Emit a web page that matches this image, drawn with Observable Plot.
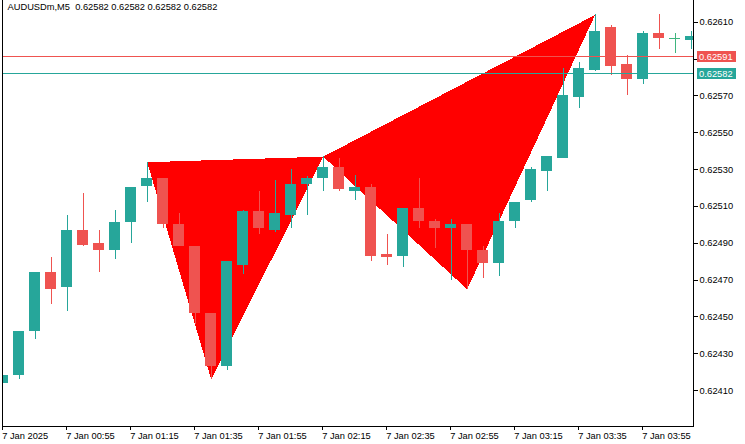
<!DOCTYPE html>
<html>
<head>
<meta charset="utf-8">
<script src="https://cdn.jsdelivr.net/npm/d3@7"></script>
<script src="https://cdn.jsdelivr.net/npm/@observablehq/plot@0.6"></script>
<style>
  html, body { margin: 0; padding: 0; background: #fff; }
  #chart svg { display: block; overflow: visible; }
</style>
</head>
<body>
<div id="chart"></div>
<script>
// ---- Data (AUDUSDm, M5, 7 Jan 2025 from 00:35) ----
const title = "AUDUSDm,M5  0.62582 0.62582 0.62582 0.62582";
const barTimes = ["00:35","00:40","00:45","00:50","00:55","01:00","01:05","01:10","01:15","01:20",
  "01:25","01:30","01:35","01:40","01:45","01:50","01:55","02:00","02:05","02:10",
  "02:15","02:20","02:25","02:30","02:35","02:40","02:45","02:50","02:55","03:00",
  "03:05","03:10","03:15","03:20","03:25","03:30","03:35","03:40","03:45","03:50",
  "03:55","04:00","04:05","04:10"];
const opens  = [0.62414,0.62418,0.62442,0.62474,0.62466,0.62497,0.62490,0.62486,0.62501,0.62521,
  0.62525,0.62500,0.62488,0.62452,0.62423,0.62478,0.62507,0.62497,0.62505,0.62522,
  0.62525,0.62531,0.62518,0.62520,0.62484,0.62483,0.62509,0.62502,0.62498,0.62500,
  0.62486,0.62479,0.62502,0.62513,0.62529,0.62536,0.62569,0.62584,0.62607,0.62587,
  0.62579,0.62604,0.62601,0.62600];
const highs  = [0.62418,0.62442,0.62474,0.62482,0.62505,0.62517,0.62497,0.62508,0.62520,0.62534,
  0.62525,0.62506,0.62488,0.62452,0.62480,0.62508,0.62518,0.62524,0.62530,0.62526,
  0.62537,0.62536,0.62527,0.62522,0.62495,0.62509,0.62525,0.62503,0.62503,0.62500,
  0.62488,0.62506,0.62512,0.62531,0.62537,0.62585,0.62588,0.62614,0.62608,0.62592,
  0.62605,0.62614,0.62604,0.62605];
const lows   = [0.62414,0.62416,0.62438,0.62457,0.62453,0.62488,0.62474,0.62481,0.62490,0.62512,
  0.62498,0.62488,0.62446,0.62416,0.62421,0.62473,0.62495,0.62496,0.62498,0.62505,
  0.62518,0.62518,0.62513,0.62480,0.62478,0.62477,0.62498,0.62487,0.62470,0.62465,
  0.62471,0.62472,0.62498,0.62512,0.62518,0.62536,0.62563,0.62583,0.62581,0.62570,
  0.62576,0.62595,0.62593,0.62595];
const closes = [0.62418,0.62442,0.62474,0.62465,0.62497,0.62489,0.62486,0.62501,0.62520,0.62525,
  0.62500,0.62488,0.62452,0.62423,0.62480,0.62507,0.62498,0.62506,0.62522,0.62525,
  0.62531,0.62519,0.62520,0.62483,0.62482,0.62509,0.62502,0.62498,0.62500,0.62486,
  0.62479,0.62502,0.62512,0.62530,0.62537,0.62570,0.62585,0.62605,0.62586,0.62579,
  0.62604,0.62601,0.62601,0.62602];

const xTickBars   = [0,4,8,12,16,20,24,28,32,36,40];
const xTickLabels = ["7 Jan 2025","7 Jan 00:55","7 Jan 01:15","7 Jan 01:35","7 Jan 01:55",
  "7 Jan 02:15","7 Jan 02:35","7 Jan 02:55","7 Jan 03:15","7 Jan 03:35","7 Jan 03:55"];
const yTicks = [0.62410,0.62430,0.62450,0.62470,0.62490,0.62510,0.62530,0.62550,0.62570,0.62590,0.62610];

// Harmonic pattern points X, A, B, C, D (bar index, price)
const patternNames  = ["X","A","B","C","D"];
const patternBars   = [9,13,20,29,37];
const patternPrices = [0.62534,0.62416,0.62537,0.62465,0.62614];

const bidPrice = 0.62582;
const askPrice = 0.62591;

// ---- Build tables ----
const BULL = "#26a69a", BEAR = "#ef5350", DOJI = "#3fb57f";
const candles = opens.map((o, i) => ({
  i, time: barTimes[i], open: o, high: highs[i], low: lows[i], close: closes[i],
  color: closes[i] > o ? BULL : closes[i] < o ? BEAR : DOJI
}));
const pts = patternBars.map((b, k) => ({name: patternNames[k], i: b, p: patternPrices[k]}));
const triangles = [
  ...[0,1,2].map(k => ({tri: "XAB", ...pts[k]})),
  ...[2,3,4].map(k => ({tri: "BCD", ...pts[k]}))
];
const priceLines = [
  {price: askPrice, color: BEAR},
  {price: bidPrice, color: BULL}
];

const W = 745, H = 444;
const mL = 2, mR = 52, mT = 0, mB = 18;
const halfBody = 0.344;
const FONT = "Liberation Sans, Arial, sans-serif";
const FS = 9.3;
// labels hidden under the price boxes
const hiddenTick = (d) => priceLines.some(l => Math.abs(l.price - d) < 0.00006);

const plot = Plot.plot({
  width: W, height: H,
  marginLeft: mL, marginRight: mR, marginTop: mT, marginBottom: mB,
  style: {fontFamily: FONT, fontSize: FS + "px", background: "#fff", color: "#000", overflow: "visible"},
  x: {type: "linear", domain: [-0.04375, 43.14375], axis: null, label: null},
  y: {type: "linear", domain: [0.623905, 0.626218], axis: null, label: null},
  color: {type: "identity"},
  marks: [
    // pattern triangles
    Plot.line(triangles, {x: "i", y: "p", z: "tri", curve: "linear-closed",
      fill: "#ff0000", stroke: "none", shapeRendering: "crispEdges", clip: true}),
    // wicks
    Plot.ruleX(candles, {x: "i", y1: "low", y2: "high", stroke: d => d.color, strokeWidth: 1,
      shapeRendering: "crispEdges", clip: true}),
    // bodies
    Plot.rect(candles.filter(d => d.open !== d.close), {
      x1: d => d.i - halfBody, x2: d => d.i + halfBody, y1: "open", y2: "close",
      fill: d => d.color, inset: 0, shapeRendering: "crispEdges", clip: true}),
    // doji
    Plot.ruleY(candles.filter(d => d.open === d.close), {
      y: "open", x1: d => d.i - halfBody, x2: d => d.i + halfBody, stroke: d => d.color,
      shapeRendering: "crispEdges", clip: true}),
    // bid / ask lines
    Plot.ruleY(priceLines, {y: "price", stroke: d => d.color, strokeWidth: 1}),
    // frame
    Plot.frame({anchor: "left", stroke: "#000", shapeRendering: "crispEdges"}),
    Plot.frame({anchor: "right", stroke: "#000", shapeRendering: "crispEdges"}),
    Plot.frame({anchor: "bottom", stroke: "#000", shapeRendering: "crispEdges"}),
    // axes
    Plot.axisX({ticks: xTickBars, tickFormat: (d) => xTickLabels[xTickBars.indexOf(d)], label: null,
      tickSize: 4, tickPadding: 2, textAnchor: "start", dx: -1, fontSize: FS, fill: "#000",
      shapeRendering: "crispEdges"}),
    Plot.axisY({anchor: "right", ticks: yTicks, tickFormat: d => hiddenTick(d) ? "" : d.toFixed(5), label: null,
      tickSize: 4, tickPadding: 2, fontSize: FS, fill: "#000", shapeRendering: "crispEdges"}),
    // title
    Plot.text([title], {frameAnchor: "top-left", dx: 5, dy: 3, textAnchor: "start",
      lineAnchor: "top", fontSize: FS, fill: "#000"})
  ]
});

const svg = d3.select(plot);
// snap the long horizontal price lines to whole pixels (pixel-crisp like the terminal)
svg.selectAll("line").each(function () {
  const el = d3.select(this);
  const y1 = +el.attr("y1"), y2 = +el.attr("y2"), x1 = +el.attr("x1"), x2 = +el.attr("x2");
  if (y1 === y2 && Math.abs(x2 - x1) > 300) {
    el.attr("y1", Math.floor(y1)).attr("y2", Math.floor(y2));
  }
});

// price labels on the right axis
const ys = plot.scale("y");
const boxX = W - mR + 4;
priceLines.forEach(({price, color}) => {
  const yy = Math.floor(ys.apply(price)) + 0.5;
  svg.append("rect").attr("x", boxX).attr("y", Math.round(yy - 5.5)).attr("width", 39).attr("height", 11)
    .attr("fill", color).attr("shape-rendering", "crispEdges");
  svg.append("text").attr("x", boxX + 2).attr("y", yy).attr("dy", "0.35em")
    .attr("text-anchor", "start")
    .attr("fill", "#ffffff").attr("font-size", FS).attr("font-family", FONT)
    .text(price.toFixed(5));
});

document.getElementById("chart").appendChild(plot);
</script>
</body>
</html>
